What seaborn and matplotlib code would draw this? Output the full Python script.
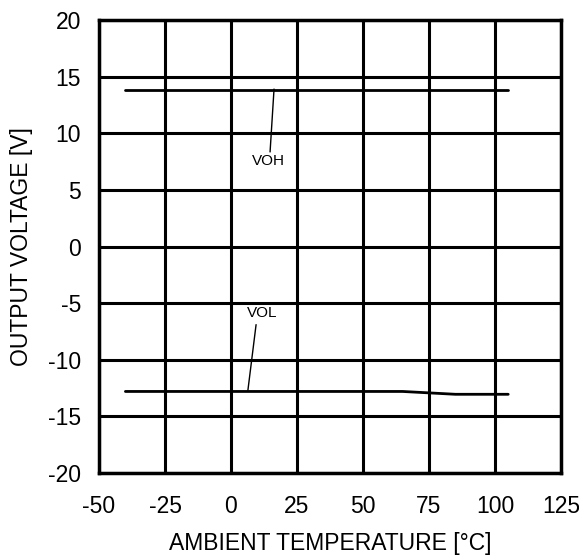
import matplotlib
matplotlib.use("Agg")
import matplotlib.pyplot as plt
import seaborn as sns
import pandas as pd

# Output voltage vs. ambient temperature
temp_voh = [-40, 0, 25, 50, 75, 105]
voh = [13.85, 13.85, 13.85, 13.85, 13.85, 13.85]
temp_vol = [-40, 0, 25, 50, 65, 85, 105]
vol = [-12.8, -12.8, -12.8, -12.8, -12.8, -13.05, -13.05]

x_ticks = [-50, -25, 0, 25, 50, 75, 100, 125]
y_ticks = [-20, -15, -10, -5, 0, 5, 10, 15, 20]

sns.set_theme(style="white")
plt.rcParams["font.family"] = ["Liberation Sans", "DejaVu Sans"]
plt.rcParams["axes.unicode_minus"] = False

df = pd.concat([
    pd.DataFrame({"temp": temp_voh, "v": voh, "s": "VOH"}),
    pd.DataFrame({"temp": temp_vol, "v": vol, "s": "VOL"}),
])

fig = plt.figure(figsize=(5.79, 5.56), dpi=100)
ax = fig.add_axes([99 / 579, 1 - 473 / 556, 462 / 579, 453 / 556])

sns.lineplot(data=df, x="temp", y="v", units="s", estimator=None,
             color="black", linewidth=2.0, ax=ax, legend=False)

ax.set_xlim(-50, 125)
ax.set_ylim(-20, 20)
ax.set_xticks(x_ticks)
ax.set_yticks(y_ticks)
ax.set_xticklabels([str(t) for t in x_ticks])
ax.set_yticklabels([str(t) for t in y_ticks])
ax.grid(True, color="black", linewidth=2.2)
ax.set_axisbelow(True)
for sp in ax.spines.values():
    sp.set_color("black")
    sp.set_linewidth(2.5)
ax.tick_params(axis="x", length=0, labelsize=16.5, colors="black", pad=16)
ax.tick_params(axis="y", length=0, labelsize=16.5, colors="black", pad=13)

ax.set_xlabel("AMBIENT TEMPERATURE [\u00b0C]", fontsize=16.5, color="black", labelpad=10)
ax.set_ylabel("OUTPUT VOLTAGE [V]", fontsize=16.5, color="black", labelpad=11)

# Curve labels with leader lines
ax.plot([16.3, 14.8], [13.9, 8.35], color="black", linewidth=1.0)
ax.text(14.0, 7.55, "VOH", fontsize=11, ha="center", va="center", color="black")
ax.plot([9.5, 6.4], [-6.9, -12.7], color="black", linewidth=1.0)
ax.text(11.7, -5.9, "VOL", fontsize=11, ha="center", va="center", color="black")

fig.savefig("out.png", dpi=100, facecolor="white")
